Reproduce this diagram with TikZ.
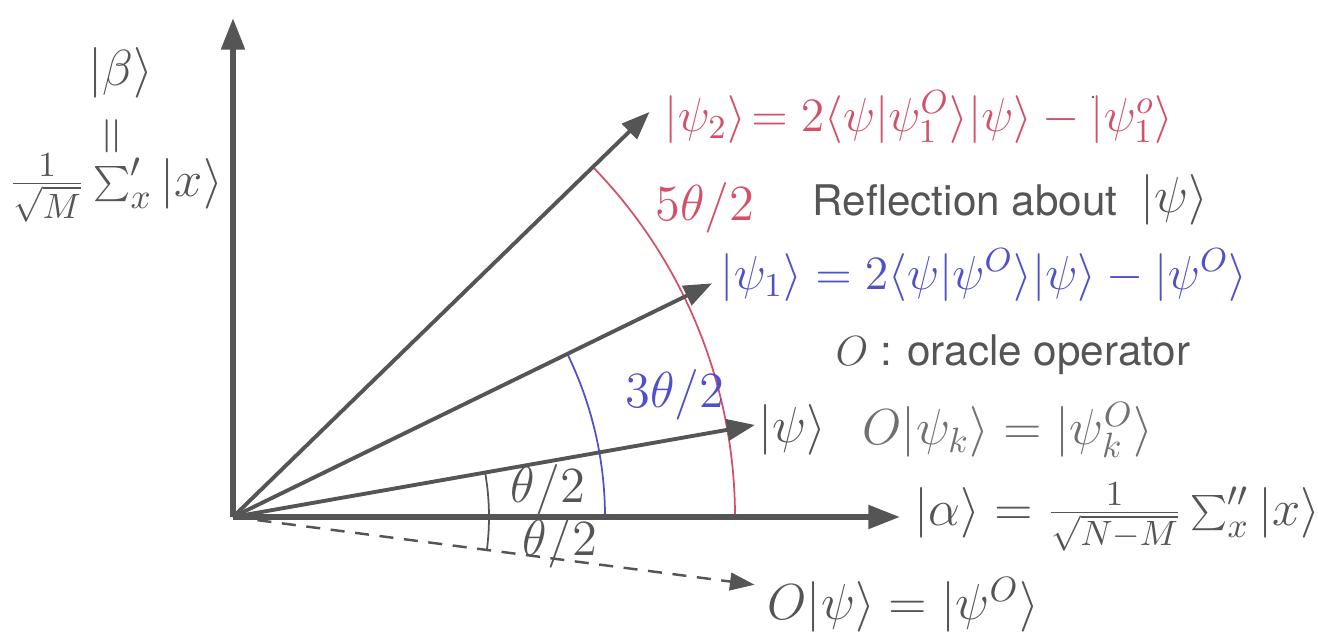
\RequirePackage{fix-cm}
\documentclass[tikz,border=0pt]{standalone}
\usepackage{fontspec}
\setsansfont{TeX Gyre Heros}
\usetikzlibrary{arrows.meta,calc}
\definecolor{ink}{HTML}{555555}
\definecolor{inklight}{HTML}{707070}
\definecolor{rd}{HTML}{D4506A}
\definecolor{bl}{HTML}{5050C8}
\begin{document}
\begin{tikzpicture}[x=0.01cm,y=0.01cm,
  axisline/.style={draw=ink, line width=1.6pt, -{Triangle[length=9pt,width=6.5pt]}},
  vecline/.style={draw=ink, line width=1.1pt, -{Triangle[length=8pt,width=6pt]}},
  dashline/.style={draw=ink, line width=0.7pt, dash pattern=on 4pt off 3pt, -{Triangle[length=7pt,width=5pt]}},
  arcline/.style={line width=0.5pt},
  mathlbl/.style={inner sep=0pt, text=ink, font=\fontsize{14.4}{17}\selectfont},
  smallmath/.style={inner sep=0pt, font=\fontsize{13.6}{16}\selectfont},
  sanslbl/.style={inner sep=0pt, text=ink, font=\sffamily\fontsize{12}{15}\selectfont}]
\useasboundingbox (0,0) rectangle (1318,634);
% geometry
\coordinate (O) at (233,117);
\coordinate (ytop) at (233,616);
\coordinate (xend) at (900,117);
\coordinate (psi) at ($(O)+(10:530)$);
\coordinate (psione) at ($(O)+(26:533)$);
\coordinate (psitwo) at ($(O)+(44.2:581)$);
\coordinate (opsi) at ($(O)+(-7.4:526)$);
% arcs
\draw[arcline, draw=ink] ($(O)+(-7.4:256)$) arc[start angle=-7.4, end angle=10, radius=256];
\draw[arcline, draw=bl] ($(O)+(0:372)$) arc[start angle=0, end angle=26, radius=372];
\draw[arcline, draw=rd] ($(O)+(0:502)$) arc[start angle=0, end angle=44.2, radius=502];
% vectors
\draw[dashline] (O) -- (opsi);
\draw[vecline] (O) -- (psi);
\draw[vecline] (O) -- (psione);
\draw[vecline] (O) -- (psitwo);
\draw[axisline] (O) -- (xend);
\draw[axisline] (O) -- (ytop);
% labels
\node[mathlbl] (beta) at (121,561) {$|\beta\rangle$};
\node[mathlbl, rotate=90] (betaeq) at (115,498) {$=$};
\node[mathlbl] (betasum) at (116,446) {$\frac{1}{\sqrt{M}}\sum'_x|x\rangle$};
\node[smallmath, anchor=west, text=rd] (lpsitwo) at (664,517) {$|\psi_2\rangle\!= 2\langle\psi|\psi^O_1\rangle|\psi\rangle - |\psi^o_1\rangle$};
\fill[ink] (1093,537) circle (1.3);
\node[mathlbl, text=rd] (lfive) at (705,426) {$5\theta/2$};
\node[sanslbl, anchor=west] (lrefl) at (812,434) {Reflection about};
\node[mathlbl] (lreflpsi) at (1174,434) {$|\psi\rangle$};
\node[smallmath, anchor=west, text=bl] (lpsione) at (720,359) {$|\psi_1\rangle = 2\langle\psi|\psi^O\rangle|\psi\rangle - |\psi^O\rangle$};
\node[sanslbl, anchor=west] (loracle) at (835,279) {$O$ : oracle operator};
\node[mathlbl, text=bl] (lthree) at (675,239) {$3\theta/2$};
\node[mathlbl, anchor=west] (lpsi) at (758,204) {$|\psi\rangle$};
\node[mathlbl, anchor=west, text=inklight] (lok) at (862,204) {$O|\psi_k\rangle = |\psi^O_k\rangle$};
\node[mathlbl] (lhalfa) at (548,144) {$\theta/2$};
\node[mathlbl] (lhalfb) at (560,91) {$\theta/2$};
\node[mathlbl, anchor=west] (lalpha) at (914,117) {$|\alpha\rangle = \frac{1}{\sqrt{N-M}}\sum''_x|x\rangle$};
\node[mathlbl, anchor=west] (lopsi) at (767,29) {$O|\psi\rangle = |\psi^O\rangle$};
\end{tikzpicture}
\end{document}
